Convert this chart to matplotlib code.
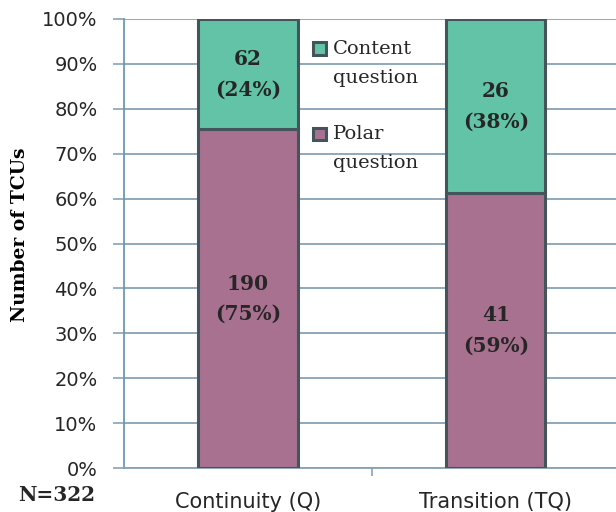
import numpy as np
import matplotlib.pyplot as plt
import matplotlib.patches as mpatches
from matplotlib.legend_handler import HandlerPatch

# data
categories = ['Continuity (Q)', 'Transition (TQ)']
polar = [190, 41]
content = [62, 26]
polar_labels = ['190\n(75%)', '41\n(59%)']
content_labels = ['62\n(24%)', '26\n(38%)']
n_total = 322

teal = '#62c3a6'
mauve = '#a8718f'
edge = '#44545b'
gridc = '#86a3b5'

polar = np.array(polar, dtype=float)
content = np.array(content, dtype=float)
tot = polar + content
p_frac = polar / tot
c_frac = content / tot

fig = plt.figure(figsize=(6.16, 5.12), dpi=100)
ax = fig.add_axes([0.2013, 0.0859, 0.805, 0.877])

x = np.arange(len(categories))
b1 = ax.bar(x, p_frac, width=0.4, color=mauve, edgecolor=edge, linewidth=2.2,
            label='Polar\nquestion', zorder=3)
b2 = ax.bar(x, c_frac, width=0.4, bottom=p_frac, color=teal, edgecolor=edge,
            linewidth=2.2, label='Content\nquestion', zorder=3)

for i in range(len(categories)):
    ax.text(x[i], p_frac[i] / 2, polar_labels[i], ha='center', va='center',
            family='DejaVu Serif', fontweight='bold', fontsize=14.5, color='#262626',
            zorder=4, linespacing=1.65)
    ax.text(x[i], p_frac[i] + c_frac[i] / 2, content_labels[i], ha='center', va='center',
            family='DejaVu Serif', fontweight='bold', fontsize=14.5, color='#262626',
            zorder=4, linespacing=1.65)

ax.set_xlim(-0.5, 1.5)
ax.set_ylim(0, 1)
ax.set_yticks(np.arange(0, 1.01, 0.1))
ax.set_yticklabels(['%d%%' % v for v in range(0, 101, 10)],
                   family='DejaVu Sans', fontsize=14, color='#262626')
ax.set_xticks(x)
ax.set_xticklabels(categories, family='DejaVu Sans', fontsize=15, color='#262626')
ax.set_xticks([0.5], minor=True)
ax.tick_params(axis='x', which='major', length=0, pad=17)
ax.tick_params(axis='x', which='minor', length=6, color=gridc, width=1.2)
ax.tick_params(axis='y', length=8, color=gridc, width=1.2, pad=11)

ax.grid(axis='y', color=gridc, linewidth=1.3, zorder=0)
for s in ['top', 'right']:
    ax.spines[s].set_visible(False)
ax.spines['left'].set_color('#6a98b8')
ax.spines['bottom'].set_color(gridc)
ax.spines['left'].set_linewidth(1.3)
ax.spines['bottom'].set_linewidth(1.3)

ax.set_ylabel('Number of TCUs', family='DejaVu Serif', fontweight='bold', fontsize=13.5)
ax.yaxis.set_label_coords(-0.192, 0.52)


# legend square sits level with the first text line
def top_square(legend, orig_handle, xdescent, ydescent, width, height, fontsize):
    return mpatches.Rectangle((-xdescent, -ydescent + 0.77 * fontsize), width, height)


handles = [b2.patches[0], b1.patches[0]]
labels = ['Content\nquestion', 'Polar\nquestion']
leg = ax.legend(handles, labels, loc='upper left',
                bbox_to_anchor=(0.346, 0.992), frameon=False,
                prop={'family': 'DejaVu Serif', 'size': 14},
                handlelength=0.65, handleheight=0.65, handletextpad=0.35,
                labelspacing=1.95,
                handler_map={mpatches.Rectangle: HandlerPatch(patch_func=top_square)})
for t in leg.get_texts():
    t.set_linespacing(1.8)
    t.set_color('#262626')

fig.text(0.03, 0.033, 'N=%d' % n_total, family='DejaVu Serif', fontweight='bold',
         fontsize=14.5, color='#262626', va='center')

fig.savefig('out.png', dpi=100)
